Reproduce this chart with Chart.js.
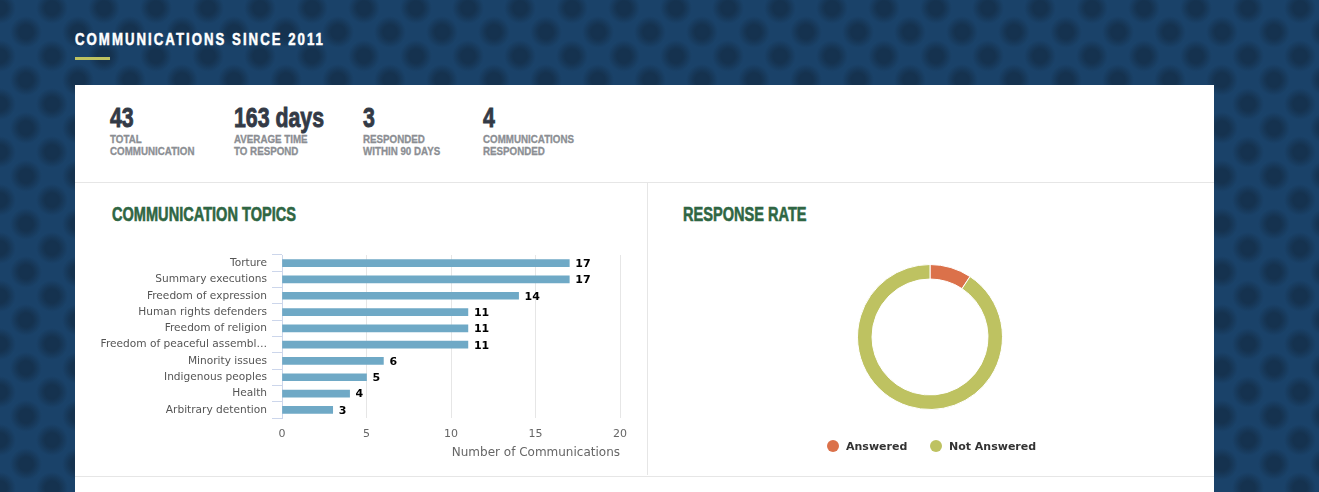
<!DOCTYPE html>
<html>
<head>
<meta charset="utf-8">
<script src="https://cdn.jsdelivr.net/npm/chart.js@4.4.1/dist/chart.umd.min.js"></script>
<style>
  html, body { margin:0; padding:0; }
  body {
    width:1319px; height:492px; overflow:hidden; position:relative;
    background-color:#1a4269;
    background-image:
      radial-gradient(circle at center, #15324f 0, #15324f 7px, rgba(21,50,79,0) 16px),
      radial-gradient(circle at center, #15324f 0, #15324f 7px, rgba(21,50,79,0) 16px);
    background-size:52px 48px, 52px 48px;
    background-position:0 8px, 26px 32px;
    font-family:"DejaVu Sans", sans-serif;
  }
  .narrow { font-family:"Liberation Sans", Arial, sans-serif; font-weight:700; display:inline-block; transform-origin:0 0; white-space:nowrap; -webkit-text-stroke:0.35px currentColor; }
  #pageTitle { position:absolute; left:75px; top:30px; color:#fff; font-size:17px; letter-spacing:2.6px; line-height:20px; -webkit-text-stroke:0.5px currentColor; }
  #titleBar { position:absolute; left:75px; top:57px; width:35px; height:3px; background:#bec260; }
  #card { position:absolute; left:75px; top:85px; width:1139px; height:420px; background:#fff; }
  .stat { position:absolute; top:102px; }
  .stat .num { color:#333a46; font-size:28px; line-height:31px; display:block; -webkit-text-stroke:0.9px currentColor; }
  .stat .lbl { color:#8b8e93; font-size:11px; line-height:12px; text-transform:uppercase; white-space:pre; display:block; -webkit-text-stroke:0.3px currentColor; }
  .hline { position:absolute; left:75px; width:1139px; height:1px; background:#e6e6e6; }
  #vline { position:absolute; left:647px; top:183px; width:1px; height:292px; background:#e6e6e6; }
  .heading { position:absolute; color:#2f6643; font-size:19.5px; line-height:22px; -webkit-text-stroke:0.6px currentColor; }
  #barWrap { position:absolute; left:90px; top:240px; width:547px; height:225px; }
  #donutWrap { position:absolute; left:857px; top:264px; width:146px; height:146px; }
  #legend { position:absolute; top:438px; left:0; width:1319px; height:16px; }
  .legItem { position:absolute; top:0; height:16px; display:flex; align-items:center; font-size:11px; font-weight:bold; color:#333; white-space:nowrap; }
  .legDot { width:12px; height:12px; border-radius:50%; margin-right:7px; }
</style>
</head>
<body>
<div id="pageTitle" class="narrow">COMMUNICATIONS SINCE 2011</div>
<div id="titleBar"></div>
<div id="card"></div>
<div id="stats"></div>
<div class="hline" style="top:182px"></div>
<div id="vline"></div>
<div class="hline" style="top:476px"></div>
<div id="h1" class="heading narrow" style="left:112px; top:203px;">COMMUNICATION TOPICS</div>
<div id="h2" class="heading narrow" style="left:683px; top:203px;">RESPONSE RATE</div>
<div id="barWrap"><canvas id="bars" width="547" height="225"></canvas></div>
<div id="donutWrap"><canvas id="donut" width="146" height="146"></canvas></div>
<div id="legend"></div>
<script>
// ---------- data ----------
const statValues = ['43', '163 days', '3', '4'];
const statLabels = ['Total\nCommunication', 'Average time\nto respond', 'Responded\nwithin 90 days', 'Communications\nresponded'];
const statLefts = [110, 234, 363, 483];

const topicCategories = ['Torture', 'Summary executions', 'Freedom of expression', 'Human rights defenders',
  'Freedom of religion', 'Freedom of peaceful assembl\u2026', 'Minority issues', 'Indigenous peoples',
  'Health', 'Arbitrary detention'];
const topicCounts = [17, 17, 14, 11, 11, 11, 6, 5, 4, 3];
const xTickValues = [0, 5, 10, 15, 20];
const xAxisTitle = 'Number of Communications';

const responseLabels = ['Answered', 'Not Answered'];
const responseValues = [4, 39];
const responseColors = ['#db714a', '#bec261'];
const legendLefts = [827, 930];

// ---------- stats ----------
const statsEl = document.getElementById('stats');
statValues.forEach((v, i) => {
  const d = document.createElement('div');
  d.className = 'stat';
  d.style.left = statLefts[i] + 'px';
  d.innerHTML = '<span class="num narrow"></span><span class="lbl narrow"></span>';
  d.querySelector('.num').textContent = v;
  d.querySelector('.lbl').textContent = statLabels[i];
  statsEl.appendChild(d);
});

// condense the display type (no condensed font installed): scale horizontally
function condense(sampleEl, targetW, els) {
  const k = targetW / sampleEl.getBoundingClientRect().width;
  els.forEach(e => { e.style.transform = 'scaleX(' + k + ')'; });
}
condense(document.getElementById('pageTitle'), 250, [document.getElementById('pageTitle')]);
condense(document.getElementById('h1'), 184, document.querySelectorAll('.heading'));
const nums = document.querySelectorAll('.stat .num');
const lbls = document.querySelectorAll('.stat .lbl');
condense(nums[1], 90, nums);
condense(lbls[3], 91, lbls);

// ---------- bar chart ----------
const valueLabels = {
  id: 'valueLabels',
  afterDatasetsDraw(chart) {
    const ctx = chart.ctx;
    const meta = chart.getDatasetMeta(0);
    ctx.save();
    ctx.font = 'bold 11px "DejaVu Sans"';
    ctx.fillStyle = '#000';
    ctx.textBaseline = 'middle';
    ctx.textAlign = 'left';
    meta.data.forEach((bar, i) => {
      ctx.fillText(String(chart.data.datasets[0].data[i]), bar.x + 6, bar.y + 1);
    });
    ctx.restore();
  }
};

new Chart(document.getElementById('bars'), {
  type: 'bar',
  data: {
    labels: topicCategories,
    datasets: [{ data: topicCounts, backgroundColor: '#6fa9c6', barThickness: 7, borderWidth: 0 }]
  },
  options: {
    indexAxis: 'y',
    responsive: false,
    animation: false,
    layout: { padding: { top: 15, right: 14, bottom: 2, left: 0 } },
    plugins: { legend: { display: false }, tooltip: { enabled: false } },
    scales: {
      x: {
        min: 0, max: 20,
        afterBuildTicks: s => { s.ticks = xTickValues.map(v => ({ value: v })); },
        ticks: { color: '#666', font: { size: 11, family: 'DejaVu Sans' }, padding: 10 },
        grid: { color: '#e6e6e6', drawTicks: false },
        border: { display: false },
        title: { display: true, text: xAxisTitle, align: 'end', color: '#666',
                 font: { size: 12, family: 'DejaVu Sans' }, padding: { top: 4, bottom: 3 } },
        afterFit: s => { s.height = 45; }
      },
      y: {
        ticks: { color: '#555', font: { size: 10.6, family: 'DejaVu Sans' }, padding: 5, autoSkip: false },
        grid: { drawOnChartArea: false, tickLength: 10, color: '#ccd6eb', offset: true },
        border: { color: '#ccd6eb' },
        afterFit: s => { s.width = 192; }
      }
    }
  },
  plugins: [valueLabels]
});

// ---------- donut ----------
new Chart(document.getElementById('donut'), {
  type: 'doughnut',
  data: {
    labels: responseLabels,
    datasets: [{ data: responseValues, backgroundColor: responseColors, borderColor: '#fff', borderWidth: 1 }]
  },
  options: {
    responsive: false,
    animation: false,
    cutout: '80%',
    layout: { padding: 0 },
    plugins: { legend: { display: false }, tooltip: { enabled: false } }
  }
});

// legend (from the same label/colour arrays)
const legEl = document.getElementById('legend');
responseLabels.forEach((lab, i) => {
  const it = document.createElement('div');
  it.className = 'legItem';
  it.style.left = legendLefts[i] + 'px';
  it.innerHTML = '<span class="legDot"></span><span></span>';
  it.querySelector('.legDot').style.background = responseColors[i];
  it.lastChild.textContent = lab;
  legEl.appendChild(it);
});
</script>
</body>
</html>
